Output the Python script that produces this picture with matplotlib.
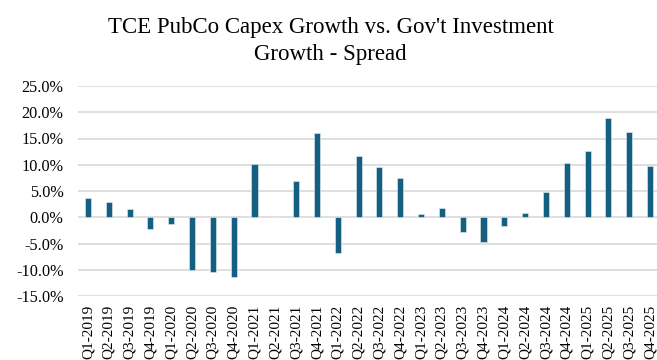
"""Bar chart of TCE PubCo capex growth vs. gov't investment growth spread"""

from matplotlib import pyplot as plt
from matplotlib.ticker import FuncFormatter

quarters = [
    'Q1-2019', 'Q2-2019', 'Q3-2019', 'Q4-2019',
    'Q1-2020', 'Q2-2020', 'Q3-2020', 'Q4-2020',
    'Q1-2021', 'Q2-2021', 'Q3-2021', 'Q4-2021',
    'Q1-2022', 'Q2-2022', 'Q3-2022', 'Q4-2022',
    'Q1-2023', 'Q2-2023', 'Q3-2023', 'Q4-2023',
    'Q1-2024', 'Q2-2024', 'Q3-2024', 'Q4-2024',
    'Q1-2025', 'Q2-2025', 'Q3-2025', 'Q4-2025',
]
spread = [
    3.6, 3.0, 1.5, -2.3,
    -1.3, -10.1, -10.5, -11.3,
    10.2, 0.0, 6.9, 16.0,
    -6.8, 11.6, 9.5, 7.4,
    0.6, 1.7, -2.9, -4.7,
    -1.7, 0.9, 4.8, 10.4,
    12.6, 19.0, 16.2, 9.8,
]
y_ticks = [-15, -10, -5, 0, 5, 10, 15, 20, 25]
title_lines = ["TCE PubCo Capex Growth vs. Gov't Investment", "Growth - Spread"]

bar_color = '#155f80'
grid_color = '#d9d9d9'

plt.rcParams['font.family'] = ['Liberation Serif', 'DejaVu Serif']

fig = plt.figure(figsize=(6.57, 3.6), dpi=100)
ax = fig.add_axes([77.5 / 657, 64 / 360, 583 / 657, 210 / 360])

x = range(len(quarters))
ax.bar(x, spread, width=0.29, color=bar_color, edgecolor='#e8eef2',
       linewidth=0.4, zorder=3)

ax.set_xlim(-0.5, len(quarters) - 0.5)
ax.set_ylim(-15, 25)
ax.set_yticks(y_ticks)
ax.yaxis.set_major_formatter(FuncFormatter(lambda v, _: f'{v:.1f}%'))
ax.set_xticks(list(x))
ax.set_xticklabels(quarters, rotation=90)
ax.tick_params(axis='y', length=0, pad=10, labelsize=11.7, colors='black')
ax.tick_params(axis='x', length=0, pad=6, labelsize=11, colors='black')

ax.grid(axis='y', color=grid_color, linewidth=1.2, zorder=0)
for side in ['top', 'right', 'left', 'bottom']:
    ax.spines[side].set_visible(False)

# title drawn as two lines at measured baselines
fig.text(0.503, 1 - 33 / 360, title_lines[0], ha='center', va='baseline', fontsize=16.5)
fig.text(0.503, 1 - 60 / 360, title_lines[1], ha='center', va='baseline', fontsize=16.5)

fig.savefig('out.png', dpi=100)
